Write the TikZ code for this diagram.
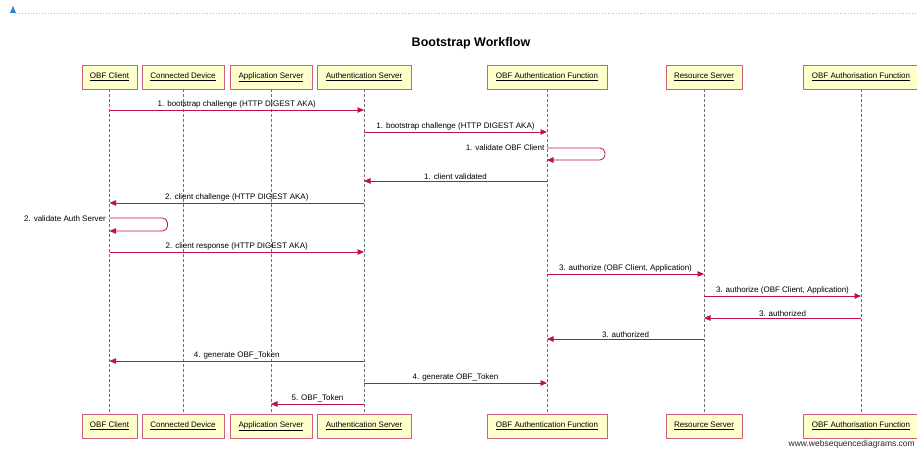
\documentclass[tikz,border=0pt]{standalone}
\usepackage{fontspec}
\setmainfont{Liberation Sans}
\usetikzlibrary{arrows.meta}
\definecolor{WSDPink}{RGB}{208,96,122}
\definecolor{WSDYellow}{RGB}{255,255,204}
\definecolor{WSDRed}{RGB}{192,16,74}
\definecolor{WSDGray}{RGB}{110,110,110}
\definecolor{WSDSky}{RGB}{140,195,235}
\definecolor{WSDBlue}{RGB}{40,130,210}

\begin{document}
\begin{tikzpicture}[x=1pt,y=-1pt,>={Triangle[length=6.5pt,width=5.5pt]},
    actor/.style={draw=WSDPink,fill=WSDYellow,line width=0.9pt,minimum height=24pt,inner xsep=3pt,font=\fontsize{8}{9}\selectfont},
    lifeline/.style={WSDGray,dash pattern=on 3pt off 2pt,line width=0.6pt},
    msg/.style={->,WSDRed,line width=0.8pt},
    lbl/.style={font=\fontsize{8}{9}\selectfont,inner sep=1.5pt,text=black}]
      \useasboundingbox (0,0) rectangle (917,452);
      % browser ruler on top
      \fill[WSDBlue] (10,13) -- (13,6) -- (16,13) -- cycle;
      \draw[WSDSky,dotted,line width=0.9pt] (16,13) -- (917,13);
      \node[font=\bfseries\fontsize{12.5}{15}\selectfont] (title) at (471,43) {Bootstrap Workflow};
      % participants, top row
      \node[actor,minimum width=55pt] (client) at (109.5,77) {\underline{OBF Client}};
      \node[actor,minimum width=82pt] (device) at (183,77) {\underline{Connected Device}};
      \node[actor,minimum width=82pt] (appsrv) at (271,77) {\underline{Application Server}};
      \node[actor,minimum width=94pt] (authsrv) at (364,77) {\underline{Authentication Server}};
      \node[actor,minimum width=120pt] (afn) at (547,77) {\underline{OBF Authentication Function}};
      \node[actor,minimum width=76pt] (ressrv) at (704,77) {\underline{Resource Server}};
      \node[actor,minimum width=116pt] (azfn) at (861,77) {\underline{OBF Authorisation Function}};
      % participants, bottom row
      \node[actor,minimum width=55pt] (clientB) at (109.5,426) {\underline{OBF Client}};
      \node[actor,minimum width=82pt] (deviceB) at (183,426) {\underline{Connected Device}};
      \node[actor,minimum width=82pt] (appsrvB) at (271,426) {\underline{Application Server}};
      \node[actor,minimum width=94pt] (authsrvB) at (364,426) {\underline{Authentication Server}};
      \node[actor,minimum width=120pt] (afnB) at (547,426) {\underline{OBF Authentication Function}};
      \node[actor,minimum width=76pt] (ressrvB) at (704,426) {\underline{Resource Server}};
      \node[actor,minimum width=116pt] (azfnB) at (861,426) {\underline{OBF Authorisation Function}};
      % lifelines
      \draw[lifeline] (client) -- (clientB);
      \draw[lifeline] (device) -- (deviceB);
      \draw[lifeline] (appsrv) -- (appsrvB);
      \draw[lifeline] (authsrv) -- (authsrvB);
      \draw[lifeline] (afn) -- (afnB);
      \draw[lifeline] (ressrv) -- (ressrvB);
      \draw[lifeline] (azfn) -- (azfnB);
      % messages
      \draw[msg] (client |- 0,110) -- node[lbl,above]{1. bootstrap challenge (HTTP DIGEST AKA)} (authsrv |- 0,110);
      \draw[msg] (authsrv |- 0,132) -- node[lbl,above]{1. bootstrap challenge (HTTP DIGEST AKA)} (afn |- 0,132);
      \draw[msg,rounded corners=5pt] (afn |- 0,148) -- ([xshift=58pt]afn |- 0,148) -- ([xshift=58pt]afn |- 0,160) -- (afn |- 0,160);
      \node[lbl,anchor=east] (selfa) at ([xshift=-1pt]afn |- 0,148) {1. validate OBF Client};
      \draw[msg] (afn |- 0,181) -- node[lbl,above]{1. client validated} (authsrv |- 0,181);
      \draw[msg] (authsrv |- 0,203) -- node[lbl,above]{2. client challenge (HTTP DIGEST AKA)} (client |- 0,203);
      \draw[msg,rounded corners=5pt] (client |- 0,218) -- ([xshift=58pt]client |- 0,218) -- ([xshift=58pt]client |- 0,231) -- (client |- 0,231);
      \node[lbl,anchor=east] (selfb) at ([xshift=-2pt]client |- 0,219) {2. validate Auth Server};
      \draw[msg] (client |- 0,252) -- node[lbl,above]{2. client response (HTTP DIGEST AKA)} (authsrv |- 0,252);
      \draw[msg] (afn |- 0,274) -- node[lbl,above]{3. authorize (OBF Client, Application)} (ressrv |- 0,274);
      \draw[msg] (ressrv |- 0,296) -- node[lbl,above]{3. authorize (OBF Client, Application)} (azfn |- 0,296);
      \draw[msg] (azfn |- 0,318) -- node[lbl,above]{3. authorized} (ressrv |- 0,318);
      \draw[msg] (ressrv |- 0,339) -- node[lbl,above]{3. authorized} (afn |- 0,339);
      \draw[msg] (authsrv |- 0,361) -- node[lbl,above]{4. generate OBF\_Token} (client |- 0,361);
      \draw[msg] (authsrv |- 0,383) -- node[lbl,above]{4. generate OBF\_Token} (afn |- 0,383);
      \draw[msg] (authsrv |- 0,404) -- node[lbl,above]{5. OBF\_Token} (appsrv |- 0,404);
      \node[anchor=east,font=\fontsize{8.5}{10}\selectfont,text=black!85,inner sep=1pt] (wsd) at (916,444) {www.websequencediagrams.com};
\end{tikzpicture}
\end{document}
